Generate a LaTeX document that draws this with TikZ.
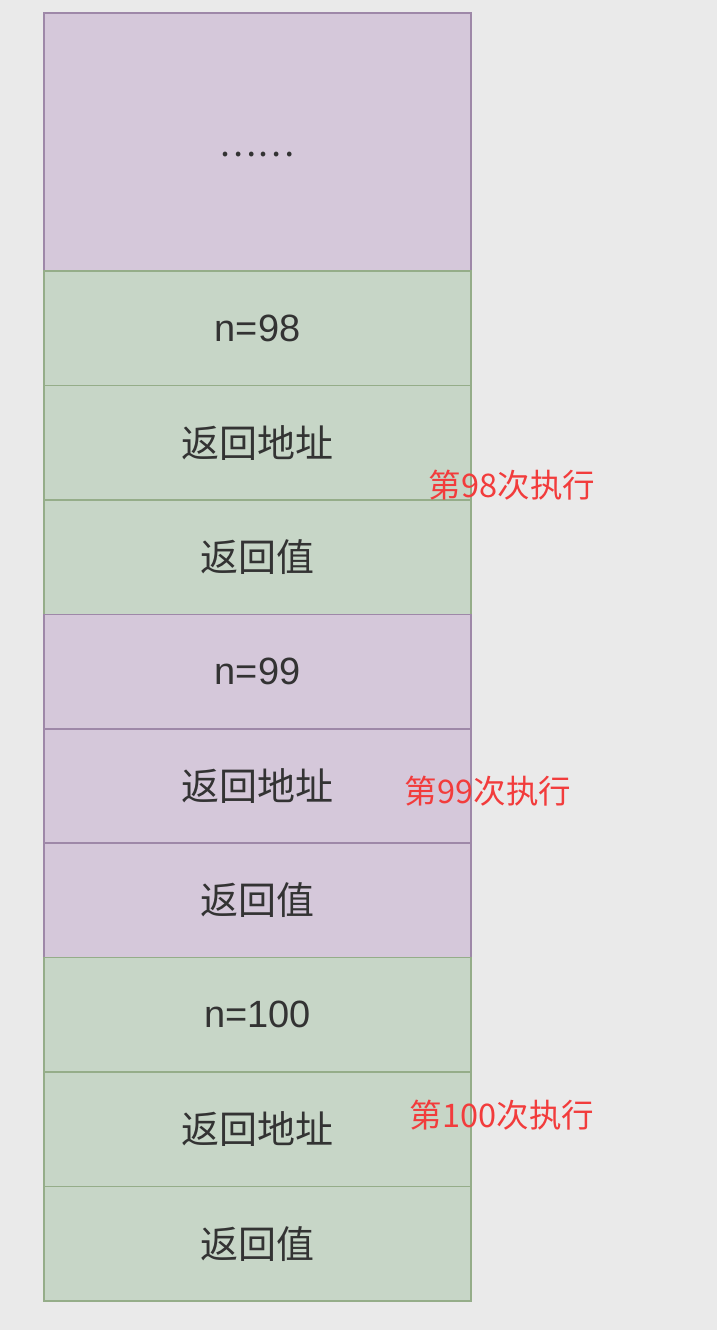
\documentclass[tikz,border=0pt]{standalone}
\usepackage{fontspec}
\setmainfont{Noto Sans CJK SC}
\newfontfamily\lat{Liberation Sans}
\definecolor{bg}{HTML}{EAEAEA}
\definecolor{pfill}{HTML}{D5C8DA}
\definecolor{pline}{HTML}{9E88A8}
\definecolor{gfill}{HTML}{C7D6C7}
\definecolor{gline}{HTML}{95AD89}
\definecolor{txt}{HTML}{333333}
\definecolor{red}{HTML}{F23C3C}
\tikzset{
  cell/.style={rectangle, minimum width=427pt, minimum height=114.44pt, inner sep=0pt, line width=1.5pt, text=txt, font=\fontsize{38}{44}\selectfont},
  pcell/.style={cell, fill=pfill, draw=pline},
  gcell/.style={cell, fill=gfill, draw=gline},
  lab/.style={text=red, font=\fontsize{32.5}{38}\selectfont, inner sep=0pt}
}
\begin{document}
\begin{tikzpicture}[x=1pt,y=-1pt]
\fill[bg] (0,0) rectangle (717,1330);
\useasboundingbox (0,0) rectangle (717,1330);
\node[pcell, minimum height=258pt] (top) at (257.5,142) {};
\node[text=txt, font=\fontsize{35}{40}\selectfont, inner sep=0pt] (dots) at (257,155) {……};
\node[gcell] (n98) at (257.5,328.22) {\lat n=98};
\node[gcell] (r98) at (257.5,442.67) {返回地址};
\node[gcell] (v98) at (257.5,557.11) {返回值};
\node[pcell] (n99) at (257.5,671.56) {\lat n=99};
\node[pcell] (r99) at (257.5,786.00) {返回地址};
\node[pcell] (v99) at (257.5,900.44) {返回值};
\node[gcell] (n100) at (257.5,1014.89) {\lat n=100};
\node[gcell] (r100) at (257.5,1129.33) {返回地址};
\node[gcell] (v100) at (257.5,1243.78) {返回值};
\node[lab] (l98) at (512,485) {第98次执行};
\node[lab] (l99) at (488,791) {第99次执行};
\node[lab] (l100) at (502,1115) {第100次执行};
\end{tikzpicture}
\end{document}
